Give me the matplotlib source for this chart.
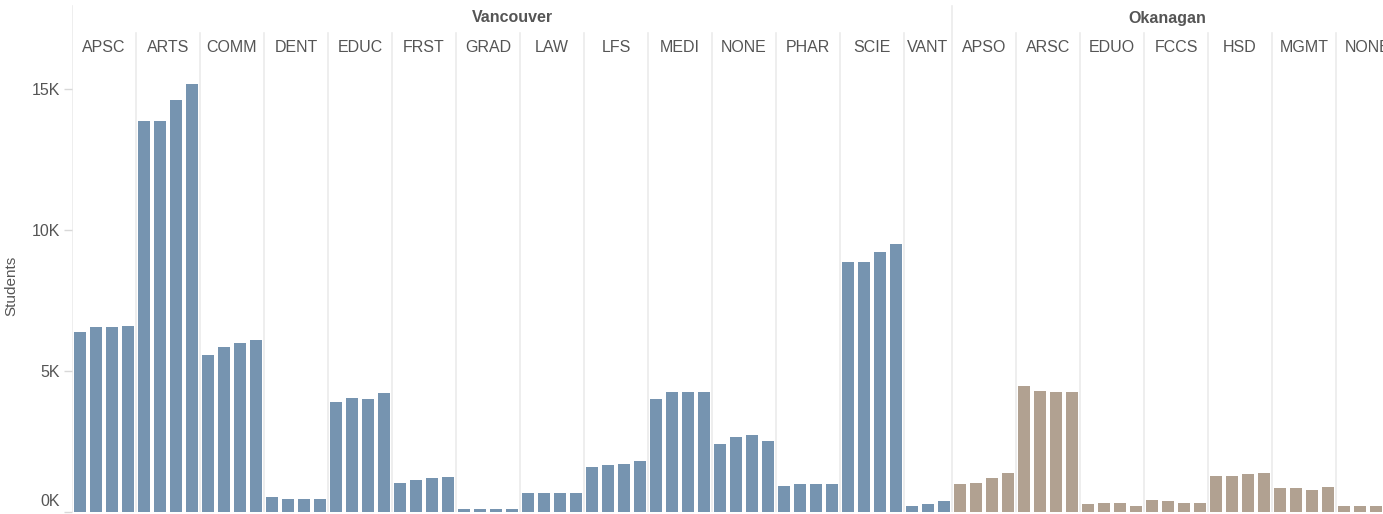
import matplotlib
matplotlib.use('Agg')
import matplotlib.pyplot as plt
import matplotlib.transforms as mtransforms
from matplotlib import rcParams

rcParams['font.family'] = ['Liberation Sans', 'DejaVu Sans']

# students per faculty, one value per year (VANT has only 3 years)
van_faculties = ['APSC', 'ARTS', 'COMM', 'DENT', 'EDUC', 'FRST', 'GRAD',
                 'LAW', 'LFS', 'MEDI', 'NONE', 'PHAR', 'SCIE', 'VANT']
van_students = [
    [6390, 6570, 6570, 6610],
    [13870, 13870, 14610, 15180],
    [5570, 5850, 5990, 6100],
    [530, 460, 460, 460],
    [3900, 4040, 4010, 4220],
    [1030, 1130, 1200, 1240],
    [110, 110, 110, 110],
    [670, 670, 670, 670],
    [1600, 1670, 1700, 1810],
    [4010, 4250, 4250, 4250],
    [2410, 2660, 2730, 2520],
    [920, 990, 990, 990],
    [8870, 8870, 9220, 9500],
    [210, 280, 390],
]
oka_faculties = ['APSO', 'ARSC', 'EDUO', 'FCCS', 'HSD', 'MGMT', 'NONE']
oka_students = [
    [990, 1030, 1210, 1380],
    [4470, 4290, 4250, 4250],
    [280, 320, 320, 210],
    [430, 390, 320, 320],
    [1280, 1280, 1350, 1380],
    [850, 850, 780, 890],
    [210, 210, 210, 210],
]
campuses = ['Vancouver', 'Okanagan']
campus_colors = ['#7694B0', '#B1A191']

W, H = 1383, 514
BASE = 512          # pixel row of the zero line
PX_PER_K = 28.17    # pixels per 1000 students
TXT = '#555555'
GRID = '#EBEBEB'

fig = plt.figure(figsize=(W / 100, H / 100), dpi=100)
ax = fig.add_axes([72 / W, (H - BASE) / H, (W - 72) / W, BASE / H])
ax.set_xlim(0, (W - 72) / 16)
ax.set_ylim(0, BASE / PX_PER_K * 1000)
for s in ax.spines.values():
    s.set_visible(False)

def yfrac(ypx):
    return (BASE - ypx) / BASE

trans = mtransforms.blended_transform_factory(ax.transData, ax.transAxes)
xmax = ax.get_xlim()[1]

slot = 0
groups = [(van_faculties, van_students), (oka_faculties, oka_students)]
for ci, (facs, studs) in enumerate(groups):
    camp_start = slot
    ax.plot([slot, slot], [0, yfrac(6)], transform=trans, color=GRID, lw=1.2, zorder=0)
    for fi, (fac, vals) in enumerate(zip(facs, studs)):
        if fi > 0:
            ax.plot([slot, slot], [0, yfrac(33)], transform=trans, color=GRID, lw=1.2, zorder=0)
        xs = [slot + k + 0.5 for k in range(len(vals))]
        ax.bar(xs, vals, width=0.75, color=campus_colors[ci], zorder=2)
        ax.text(slot + len(vals) / 2, yfrac(47), fac, transform=trans, ha='center',
                va='center', fontsize=11.5, color=TXT)
        slot += len(vals)
    # campus header is centred on the visible part of its span
    ax.text((camp_start + min(slot, xmax)) / 2, yfrac(18), campuses[ci], transform=trans,
            ha='center', va='center', fontsize=11.5, fontweight='bold', color=TXT)

ax.set_xticks([])
ax.set_yticks([0, 5000, 10000, 15000])
ax.set_yticklabels(['0K', '5K', '10K', '15K'])
ax.tick_params(axis='y', length=6, width=1, color='#D8D8D8', pad=2.5,
               labelsize=11.5, labelcolor=TXT)
# bottom label sits a bit above its tick, as in the original
lab0 = ax.get_yticklabels()[0]
lab0.set_va('baseline')
lab0.set_transform(lab0.get_transform() + mtransforms.ScaledTranslation(0, 6 / 100, fig.dpi_scale_trans))

ax.set_ylabel('Students', fontsize=11, color=TXT)
ax.yaxis.set_label_coords((18 - 72) / (W - 72), yfrac(286))

fig.savefig('out.png', dpi=100)
